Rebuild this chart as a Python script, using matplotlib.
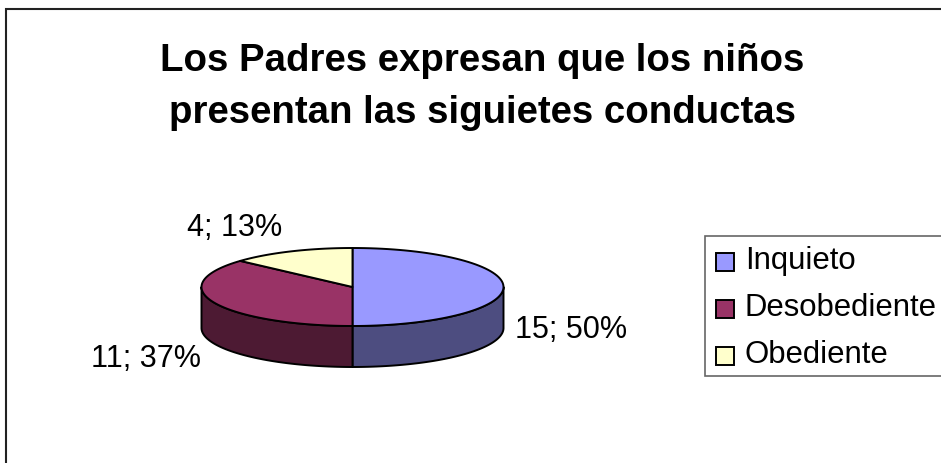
import numpy as np
import matplotlib
matplotlib.use('Agg')
import matplotlib.pyplot as plt
from matplotlib.patches import Polygon, Rectangle

categorias = ['Inquieto', 'Desobediente', 'Obediente']
valores = [15, 11, 4]
etiquetas = ['15; 50%', '11; 37%', '4; 13%']
colores = ['#9999FF', '#993366', '#FFFFCC']
lados = ['#4D4D80', '#4D1A33', '#808066']
titulo = 'Los Padres expresan que los niños\npresentan las siguietes conductas'

plt.rcParams['font.family'] = ['Liberation Sans', 'DejaVu Sans']

# axes in pixels of the original image, y going down
fig = plt.figure(figsize=(9.41, 4.63), dpi=100)
ax = fig.add_axes([0, 0, 1, 1])
ax.set_xlim(0, 941)
ax.set_ylim(463, 0)
ax.axis('off')

# chart frame, only top and left fall inside the image
ax.plot([6, 6, 941], [463, 9, 9], color='#222222', lw=1.5, solid_joinstyle='miter')

cx, cy, rx, ry, alto = 352.5, 287, 151, 39, 41

def borde(a0, a1, dy=0):
    # angle measured clockwise from the top of the pie
    t = np.linspace(a0, a1, 80)
    return np.column_stack([cx + rx * np.sin(t), cy + dy - ry * np.cos(t)])

# side walls first: only the front half (pi/2 .. 3pi/2) can be seen
fracs = np.array(valores) / sum(valores)
inicio = np.concatenate([[0], np.cumsum(fracs)[:-1]]) * 2 * np.pi
fin = np.cumsum(fracs) * 2 * np.pi
for a0, a1, c in zip(inicio, fin, lados):
    b0, b1 = max(a0, np.pi / 2), min(a1, 3 * np.pi / 2)
    if b1 > b0:
        arriba = borde(b0, b1)
        abajo = borde(b0, b1, alto)[::-1]
        ax.add_patch(Polygon(np.vstack([arriba, abajo]), closed=True, fc=c, ec='black', lw=1.4, joinstyle='round'))

for a0, a1, c in zip(inicio, fin, colores):
    pts = np.vstack([[cx, cy], borde(a0, a1)])
    ax.add_patch(Polygon(pts, closed=True, fc=c, ec='black', lw=1.4, joinstyle='round'))

ax.text(482, 61, titulo.split('\n')[0], ha='center', va='center', fontsize=27.6, fontweight='bold')
ax.text(483, 113, titulo.split('\n')[1], ha='center', va='center', fontsize=27.6, fontweight='bold')

pos_etiquetas = [(571, 330), (146, 359), (235, 228)]
for (x, y), e in zip(pos_etiquetas, etiquetas):
    ax.text(x, y, e, ha='center', va='center', fontsize=22)

# legend box
ax.add_patch(Rectangle((705, 236), 240, 140, fc='white', ec='#666666', lw=1.2))
for y, c, nombre in zip([262, 309, 356], colores, categorias):
    ax.add_patch(Rectangle((716.5, y - 9), 18, 18, fc=c, ec='black', lw=1.4))
    ax.text(745, y - 1, nombre, ha='left', va='center', fontsize=22.4)

fig.savefig('out.png', dpi=100, facecolor='white')
